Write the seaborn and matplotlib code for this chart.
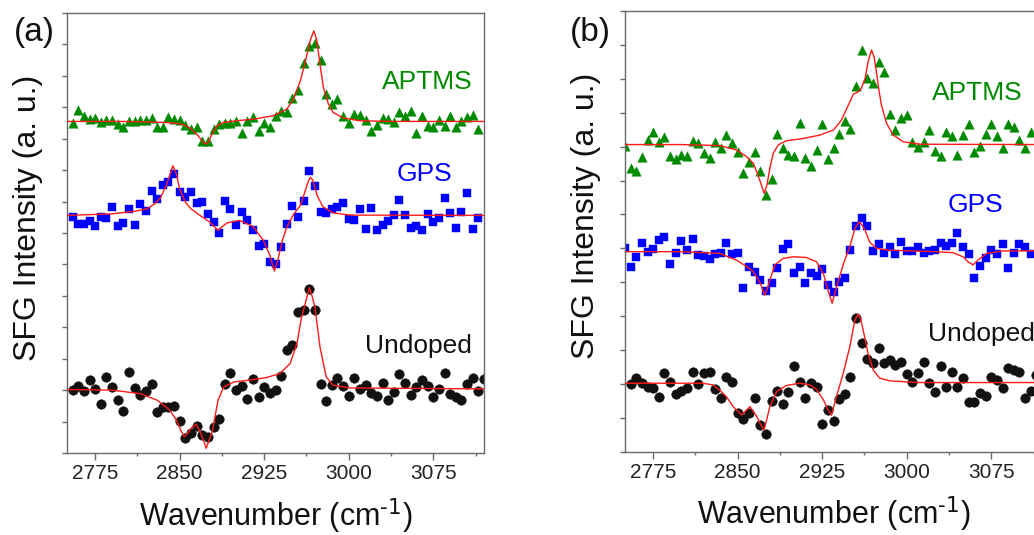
import numpy as np
import pandas as pd
import matplotlib
matplotlib.use('Agg')
import matplotlib.pyplot as plt
import seaborn as sns
from matplotlib.ticker import FixedLocator, MultipleLocator

sns.set_theme(style='ticks')
plt.rcParams['font.family'] = ['Liberation Sans', 'DejaVu Sans']
plt.rcParams['mathtext.default'] = 'regular'

# scan grids (cm-1), one point every 5 cm-1
a_grid = np.arange(2755, 3116, 5)
a_grid_undoped = np.arange(2755, 3121, 5)
b_grid = np.arange(2750, 3111, 5)
b_grid_undoped = np.arange(2755, 3116, 5)

# panel (a) measured points (offset, a.u.)
a_aptms = [10.49, 10.91, 10.73, 10.62, 10.66, 10.52, 10.59, 10.60, 10.47, 10.38,
           10.57, 10.55, 10.59, 10.61, 10.66, 10.38, 10.38, 10.70, 10.62, 10.60,
           10.44, 10.31, 10.38, 9.94, 9.94, 10.31, 10.47, 10.49, 10.49, 10.55,
           10.18, 10.55, 10.70, 10.25, 10.49, 10.38, 10.73, 10.87, 10.84, 11.31,
           11.55, 12.42, 12.95, 13.06, 12.50, 11.42, 11.10, 11.26, 10.73, 10.49,
           10.78, 10.76, 10.59, 10.23, 10.44, 10.66, 10.62, 10.52, 10.84, 10.73,
           10.87, 10.17, 10.73, 10.41, 10.36, 10.59, 10.41, 10.73, 10.36, 10.57,
           10.70, 10.75, 10.31]
a_gps = [7.52, 7.29, 7.29, 7.37, 7.21, 7.52, 7.48, 7.82, 7.21, 7.31,
         7.77, 7.26, 7.93, 7.69, 8.33, 8.09, 8.54, 8.61, 8.88, 8.32,
         8.14, 8.32, 7.95, 7.98, 7.61, 7.34, 7.01, 8.03, 7.77, 7.27,
         7.66, 7.42, 7.10, 6.58, 6.66, 6.07, 6.02, 6.55, 7.29, 7.85,
         7.52, 8.03, 8.98, 8.51, 7.68, 7.64, 7.77, 7.82, 7.95, 7.43,
         7.42, 7.75, 7.13, 7.79, 7.10, 7.24, 7.38, 7.56, 8.06, 7.56,
         7.17, 7.21, 7.10, 7.61, 7.34, 7.48, 8.12, 7.64, 7.15, 7.66,
         8.26, 7.13, 7.48]
a_undoped = [2.02, 2.13, 1.98, 2.32, 2.05, 1.56, 2.42, 2.09, 1.70, 1.33,
             2.58, 2.07, 1.86, 1.98, 2.18, 1.31, 1.47, 1.45, 1.49, 1.02,
             0.49, 0.64, 0.87, 0.57, 0.52, 0.83, 1.07, 2.18, 2.55, 2.00,
             2.13, 1.71, 2.34, 1.77, 2.09, 1.91, 2.02, 2.45, 3.27, 3.45,
             4.49, 4.56, 5.21, 4.56, 2.19, 1.65, 2.16, 2.39, 2.13, 1.81,
             2.39, 2.05, 2.16, 1.91, 1.81, 2.23, 1.70, 1.95, 2.50, 2.24,
             1.84, 2.10, 2.32, 2.13, 1.79, 2.05, 2.55, 1.87, 1.77, 1.70,
             2.19, 2.39, 1.98, 2.34]

# panel (a) fitted curves
a_aptms_fit_x = [2750, 2800, 2835, 2850, 2856, 2861, 2865, 2868, 2871, 2874,
                 2876, 2878, 2881, 2883, 2889, 2900, 2915, 2933, 2945, 2951,
                 2957, 2960, 2963, 2966, 2969, 2971.5, 2974.5, 2977.5, 2982, 2986,
                 2995, 3010, 3040, 3120]
a_aptms_fit_y = [10.55, 10.55, 10.52, 10.48, 10.41, 10.28, 10.15, 10.02, 9.88, 9.83,
                 9.92, 10.10, 10.30, 10.41, 10.52, 10.57, 10.62, 10.73, 10.94, 11.26,
                 11.84, 12.25, 12.69, 13.15, 13.43, 13.16, 12.37, 11.63, 11.10, 10.84,
                 10.66, 10.57, 10.55, 10.55]
a_gps_fit_x = [2750, 2790, 2810, 2821, 2828, 2833, 2838, 2841, 2844, 2847,
               2850, 2855, 2860, 2868, 2877, 2884, 2888, 2892, 2903, 2915,
               2924, 2930, 2934, 2937, 2941, 2945, 2951, 2957, 2961, 2964,
               2966, 2968, 2972, 2977, 2986, 3001, 3120]
a_gps_fit_y = [7.56, 7.61, 7.69, 7.77, 7.93, 8.12, 8.51, 8.82, 9.14, 8.88,
               8.40, 7.98, 7.77, 7.56, 7.34, 7.08, 7.21, 7.32, 7.40, 7.21,
               6.78, 6.29, 5.79, 6.13, 6.76, 7.18, 7.59, 7.87, 8.30, 8.64,
               8.77, 8.69, 8.19, 7.84, 7.64, 7.57, 7.56]
a_undoped_fit_x = [2750, 2790, 2815, 2830, 2841, 2847, 2851, 2854, 2857, 2860,
                   2864.5, 2868, 2871, 2873.5, 2876, 2879, 2884, 2889, 2898, 2912,
                   2927, 2939, 2948, 2954, 2958, 2961, 2963.5, 2965, 2967, 2970,
                   2974.5, 2980, 2986, 3001, 3120]
a_undoped_fit_y = [2.02, 2.00, 1.89, 1.68, 1.37, 1.05, 0.72, 0.52, 0.62, 0.78,
                   0.92, 0.68, 0.42, 0.15, 0.40, 0.70, 1.68, 2.10, 2.26, 2.32,
                   2.40, 2.53, 2.85, 3.48, 4.30, 4.70, 5.05, 5.26, 5.05, 4.64,
                   3.37, 2.42, 2.16, 2.07, 2.04]

# panel (b) measured points
b_aptms = [9.03, 8.36, 8.28, 8.70, 9.19, 9.44, 9.14, 9.27, 8.73, 8.63,
           8.75, 8.73, 9.17, 9.10, 8.80, 8.65, 9.14, 8.95, 9.34, 9.10,
           8.85, 8.21, 8.55, 8.83, 8.28, 7.57, 8.04, 9.36, 8.95, 8.75,
           8.73, 9.69, 8.67, 8.44, 8.90, 9.67, 8.63, 8.95, 9.37, 9.76,
           9.51, 10.80, 11.85, 11.01, 10.87, 11.49, 11.19, 9.96, 9.49, 9.85,
           9.93, 9.14, 9.00, 9.13, 9.49, 8.87, 8.73, 9.44, 9.31, 8.75,
           9.34, 9.66, 8.85, 9.03, 9.37, 9.66, 9.31, 8.95, 9.67, 9.59,
           9.19, 8.95, 9.42]
b_gps = [6.00, 5.46, 5.75, 6.17, 5.90, 5.97, 6.24, 6.34, 5.53, 5.87,
         6.22, 5.95, 6.26, 5.80, 5.77, 5.68, 5.83, 5.87, 6.15, 5.83,
         5.85, 4.84, 5.46, 5.31, 5.06, 4.75, 4.97, 5.41, 5.97, 6.12,
         5.26, 5.44, 4.97, 5.28, 5.18, 5.38, 4.92, 4.72, 5.01, 5.11,
         5.95, 6.66, 6.88, 6.66, 5.92, 6.13, 5.87, 6.05, 5.83, 6.19,
         5.93, 5.93, 6.05, 5.87, 5.93, 5.95, 6.17, 6.07, 6.15, 6.44,
         6.05, 5.83, 5.13, 5.48, 5.70, 5.95, 5.83, 6.12, 5.41, 5.87,
         6.12, 6.05, 5.83]
b_undoped = [1.99, 2.18, 2.04, 1.92, 1.89, 1.62, 2.33, 2.06, 1.70, 1.80,
             1.87, 2.34, 2.00, 2.33, 2.36, 1.84, 1.58, 2.19, 2.06, 1.15,
             0.96, 1.15, 1.59, 0.79, 0.51, 1.50, 1.80, 1.41, 1.77, 2.53,
             2.06, 1.59, 2.02, 1.90, 0.82, 1.23, 0.91, 1.55, 1.69, 2.21,
             3.95, 3.20, 2.73, 2.61, 3.05, 2.63, 2.71, 2.56, 2.65, 2.28,
             2.06, 2.31, 2.65, 2.04, 1.77, 2.53, 1.92, 2.36, 1.90, 2.17,
             1.47, 1.46, 1.74, 1.65, 2.19, 2.12, 1.87, 2.46, 2.41, 2.36,
             1.59, 1.80, 2.26]

# panel (b) fitted curves
b_aptms_fit_x = [2750, 2800, 2834, 2849, 2858, 2864, 2868, 2871, 2873.5, 2876,
                 2878.5, 2881.5, 2886, 2893, 2908, 2923, 2935, 2942, 2949.5, 2952.5,
                 2956, 2959, 2963, 2965.7, 2968.7, 2971, 2973, 2975.5, 2977.5, 2982,
                 2988, 2997, 3012, 3120]
b_aptms_fit_y = [9.06, 9.06, 9.03, 8.90, 8.70, 8.50, 8.16, 7.87, 7.62, 7.87,
                 8.36, 8.80, 9.05, 9.17, 9.24, 9.34, 9.49, 9.78, 10.32, 10.54,
                 10.60, 10.67, 11.01, 11.50, 11.85, 11.65, 11.21, 10.62, 10.23, 9.69,
                 9.34, 9.14, 9.07, 9.06]
b_gps_fit_x = [2750, 2800, 2834, 2849, 2858, 2864, 2870, 2872.5, 2874, 2876,
               2878.5, 2883, 2890, 2899, 2911, 2920, 2926, 2930, 2933.8, 2936,
               2938, 2944, 2949.5, 2954, 2957.7, 2960, 2963, 2967, 2973, 2982,
               2997, 3026, 3041, 3050, 3054.4, 3058.8, 3063, 3071, 3085, 3120]
b_gps_fit_y = [5.90, 5.90, 5.85, 5.65, 5.46, 5.31, 4.97, 4.75, 4.62, 4.78,
               5.06, 5.51, 5.70, 5.75, 5.73, 5.60, 5.26, 4.77, 4.38, 4.65,
               4.90, 5.56, 6.05, 6.59, 6.78, 6.70, 6.54, 6.19, 6.00, 5.95,
               5.93, 5.90, 5.87, 5.75, 5.60, 5.51, 5.65, 5.85, 5.92, 5.93]
b_undoped_fit_x = [2750, 2800, 2819, 2828, 2834, 2840, 2846, 2853.4, 2857, 2860.8,
                   2864, 2867, 2870, 2873.2, 2876, 2878.5, 2884.5, 2893, 2905, 2914,
                   2920, 2926, 2930.3, 2933.2, 2937.6, 2943.6, 2949.5, 2954, 2956.9, 2959,
                   2961.3, 2965.7, 2970.2, 2976, 2985, 3011, 3120]
b_undoped_fit_y = [2.02, 2.02, 2.02, 1.97, 1.82, 1.62, 1.33, 1.08, 1.20, 1.33,
                   1.18, 1.03, 0.83, 0.64, 0.98, 1.33, 1.77, 1.95, 2.02, 1.97,
                   1.84, 1.53, 1.23, 1.08, 1.62, 2.31, 3.10, 3.89, 4.06, 3.93,
                   3.59, 2.90, 2.41, 2.17, 2.09, 2.04, 2.04]

sample_names = ['APTMS', 'GPS', 'Undoped']
sample_colors = ['#008a00', '#0000ff', '#111111']
sample_markers = ['^', 's', 'o']
marker_sizes = [46, 34, 48]
fit_color = '#ff1a1a'
spine_color = '#6a6a6a'

fig = plt.figure(figsize=(10.34, 5.35), dpi=100)
ax_a = fig.add_axes([67 / 1034, (535 - 453) / 535, 417 / 1034, 440 / 535])
ax_b = fig.add_axes([625 / 1034, (535 - 451.7) / 535, 417 / 1034, 440.7 / 535])

panels = [
    (ax_a, [(a_grid, a_aptms), (a_grid, a_gps), (a_grid_undoped, a_undoped)],
     [(a_aptms_fit_x, a_aptms_fit_y), (a_gps_fit_x, a_gps_fit_y), (a_undoped_fit_x, a_undoped_fit_y)],
     [(3070, 11.58), (3067, 8.67), (3062, 3.17)], 14),
    (ax_b, [(b_grid, b_aptms), (b_grid, b_gps), (b_grid_undoped, b_undoped)],
     [(b_aptms_fit_x, b_aptms_fit_y), (b_gps_fit_x, b_gps_fit_y), (b_undoped_fit_x, b_undoped_fit_y)],
     [(3063, 10.37), (3061, 7.08), (3066, 3.27)], 13),
]

for ax, series, fits, label_pos, ytop in panels:
    for (x, y), color, marker, size in zip(series, sample_colors, sample_markers, marker_sizes):
        df = pd.DataFrame({'wavenumber': x, 'intensity': y})
        sns.scatterplot(data=df, x='wavenumber', y='intensity', marker=marker, color=color,
                        edgecolor=color, linewidth=0.3, s=size, ax=ax, legend=False, zorder=2)
    for fx, fy in fits:
        sns.lineplot(x=fx, y=fy, color=fit_color, linewidth=1.0, estimator=None, sort=False,
                     ax=ax, zorder=3)
    for name, color, (tx, ty) in zip(sample_names, sample_colors, label_pos):
        ax.text(tx, ty, name, color=color, fontsize=19, ha='center', va='baseline')

    ax.set_xlim(2750, 3120)
    ax.set_ylim(0, ytop)
    ax.xaxis.set_major_locator(FixedLocator([2775, 2850, 2925, 3000, 3075]))
    ax.xaxis.set_minor_locator(FixedLocator([2812.5, 2887.5, 2962.5, 3037.5, 3112.5]))
    ax.yaxis.set_major_locator(MultipleLocator(1))
    ax.tick_params(axis='x', which='major', direction='out', length=5, width=1,
                   color=spine_color, labelcolor='#222222', labelsize=15, pad=3)
    ax.tick_params(axis='x', which='minor', direction='out', length=2.5, width=1, color=spine_color)
    ax.tick_params(axis='y', which='major', direction='out', length=3.5, width=1,
                   color=spine_color, labelleft=False)
    for sp in ax.spines.values():
        sp.set_color(spine_color)
        sp.set_linewidth(1.0)
    ax.set_xlabel(r'Wavenumber (cm$^{\text{-1}}$)', fontsize=22, color='#111111')
    ax.set_ylabel('SFG Intensity (a. u.)', fontsize=23, color='#111111')
    ax.xaxis.set_label_coords(0.5, -0.098)
    ax.yaxis.set_label_coords(-0.058, 0.534)

fig.text(34 / 1034, 1 - 32 / 535, '(a)', fontsize=24, ha='center', va='center', color='#111111')
fig.text(590 / 1034, 1 - 32 / 535, '(b)', fontsize=24, ha='center', va='center', color='#111111')

fig.savefig('out.png', dpi=100)
